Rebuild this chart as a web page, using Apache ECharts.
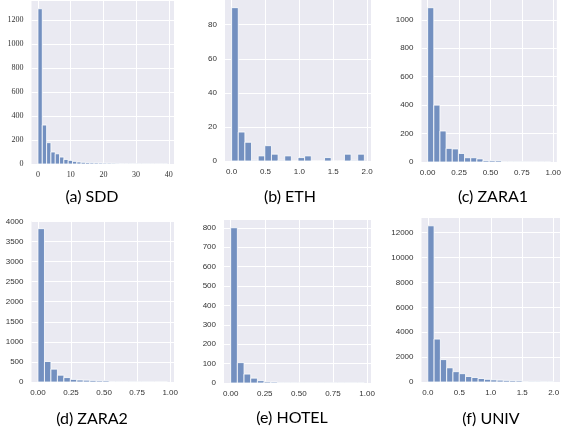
<!DOCTYPE html>
<html><head><meta charset="utf-8">
<script src="https://cdn.jsdelivr.net/npm/echarts@6/dist/echarts.min.js"></script>
<style>html,body{margin:0;padding:0;background:#fff}#c{width:564px;height:433px}</style>
</head><body><div id="c"></div>
<script>
// ---- data ----
const panelTitles = ['(a) SDD', '(b) ETH', '(c) ZARA1', '(d) ZARA2', '(e) HOTEL', '(f) UNIV'];
const binStarts = [0, 0, 0, 0, 0, 0];
const binWidths = [1.32, 0.098, 0.049, 0.049, 0.049, 0.1];
const sddCounts = [1295, 325, 178, 100, 85, 58, 38, 30, 22, 17, 14, 12, 10, 9, 8, 7, 7, 6, 5, 4, 4, 3, 3, 2, 2, 2, 1, 1, 1, 2];
const ethCounts = [90, 17, 11, 0.4, 3, 9, 4, 0.4, 3, 0, 2, 3, 0, 0, 2, 0, 0, 4, 0.4, 4];
const zara1Counts = [1085, 400, 218, 96, 92, 60, 30, 30, 22, 10, 10, 10, 3, 3, 2, 2, 1, 1, 1, 1];
const zara2Counts = [3820, 510, 320, 170, 110, 65, 50, 45, 40, 30, 30, 12, 8, 12, 6, 4, 4, 3, 2, 2];
const hotelCounts = [800, 105, 46, 25, 12, 6, 5, 2, 1, 1, 1, 1, 1, 2, 1, 1, 1, 1, 1, 1];
const univCounts = [12550, 3450, 1800, 1140, 830, 670, 440, 360, 280, 215, 170, 150, 130, 110, 100, 40, 50, 50, 30, 25];
const allCounts = [sddCounts, ethCounts, zara1Counts, zara2Counts, hotelCounts, univCounts];

const xTickValues = [
  [0, 10, 20, 30, 40],
  [0, 0.5, 1, 1.5, 2],
  [0, 0.25, 0.5, 0.75, 1],
  [0, 0.25, 0.5, 0.75, 1],
  [0, 0.25, 0.5, 0.75, 1],
  [0, 0.5, 1, 1.5, 2]
];
const xTickLabels = [
  ['0', '10', '20', '30', '40'],
  ['0.0', '0.5', '1.0', '1.5', '2.0'],
  ['0.00', '0.25', '0.50', '0.75', '1.00'],
  ['0.00', '0.25', '0.50', '0.75', '1.00'],
  ['0.00', '0.25', '0.50', '0.75', '1.00'],
  ['0.0', '0.5', '1.0', '1.5', '2.0']
];
const yTickValues = [
  [0, 200, 400, 600, 800, 1000, 1200],
  [0, 20, 40, 60, 80],
  [0, 200, 400, 600, 800, 1000],
  [0, 500, 1000, 1500, 2000, 2500, 3000, 3500, 4000],
  [0, 100, 200, 300, 400, 500, 600, 700, 800],
  [0, 2000, 4000, 6000, 8000, 10000, 12000]
];
const xRanges = [[-1.98, 41.58], [-0.098, 2.058], [-0.049, 1.029], [-0.049, 1.029], [-0.049, 1.029], [-0.1, 2.1]];

// ---- layout ----
const grids = [
  {left: 31.5, top: 1, width: 142.5, height: 163},
  {left: 225, top: 0, width: 146, height: 161},
  {left: 421.5, top: 0, width: 141, height: 162},
  {left: 31.5, top: 221, width: 142.5, height: 161},
  {left: 224, top: 220, width: 147, height: 163},
  {left: 421.5, top: 218, width: 138.5, height: 164}
];
const titlePos = [[92, 197], [290, 197], [493, 197], [92, 419], [292, 418], [491, 419]];
const BG = '#EAEAF2', BAR = '#7390C0';
const fam = i => (i === 0 ? "'Liberation Serif', 'DejaVu Serif', serif" : "'Liberation Sans', Arial, sans-serif");

const option = {
  animation: false,
  backgroundColor: '#fff',
  grid: grids.map(g => Object.assign({show: true, backgroundColor: BG, borderWidth: 0}, g)),
  xAxis: grids.map((g, i) => ({
    type: 'value', gridIndex: i, min: xRanges[i][0], max: xRanges[i][1],
    axisLine: {show: false},
    axisTick: {show: false, customValues: xTickValues[i]},
    axisLabel: {
      customValues: xTickValues[i], margin: 7,
      fontSize: 8, color: '#333', fontFamily: fam(i),
      formatter: v => {
        let best = 0;
        xTickValues[i].forEach((t, k) => { if (Math.abs(t - v) < Math.abs(xTickValues[i][best] - v)) best = k; });
        return xTickLabels[i][best];
      }
    },
    splitLine: {show: true, lineStyle: {color: '#fff', width: 1}}
  })),
  yAxis: grids.map((g, i) => ({
    type: 'value', gridIndex: i, min: 0, max: Math.max(...allCounts[i]) * 1.05,
    axisLine: {show: false},
    axisTick: {show: false, customValues: yTickValues[i]},
    axisLabel: {
      customValues: yTickValues[i], margin: 8,
      fontSize: 8, color: '#333', fontFamily: fam(i),
      formatter: v => String(Math.round(v))
    },
    splitLine: {show: true, lineStyle: {color: '#fff', width: 1}}
  })),
  graphic: panelTitles.map((t, i) => ({
    type: 'text', x: titlePos[i][0], y: titlePos[i][1],
    style: {text: t, font: '16px Lato', fill: '#000', align: 'center', verticalAlign: 'middle', textAlign: 'center', textVerticalAlign: 'middle'}
  })),
  series: allCounts.map((counts, i) => ({
    type: 'custom', xAxisIndex: i, yAxisIndex: i,
    data: counts.map((c, k) => [binStarts[i] + k * binWidths[i], binStarts[i] + (k + 1) * binWidths[i], c]),
    encode: {x: [0, 1], y: 2},
    renderItem: (params, api) => {
      const p0 = api.coord([api.value(0), api.value(2)]);
      const p1 = api.coord([api.value(1), 0]);
      return {
        type: 'rect',
        shape: {x: p0[0], y: p0[1], width: p1[0] - p0[0], height: p1[1] - p0[1]},
        style: {fill: BAR, stroke: '#fff', lineWidth: 0.8}
      };
    }
  }))
};
const chart = echarts.init(document.getElementById('c'), null, {renderer: 'canvas'});
chart.setOption(option);
</script>
</body></html>
